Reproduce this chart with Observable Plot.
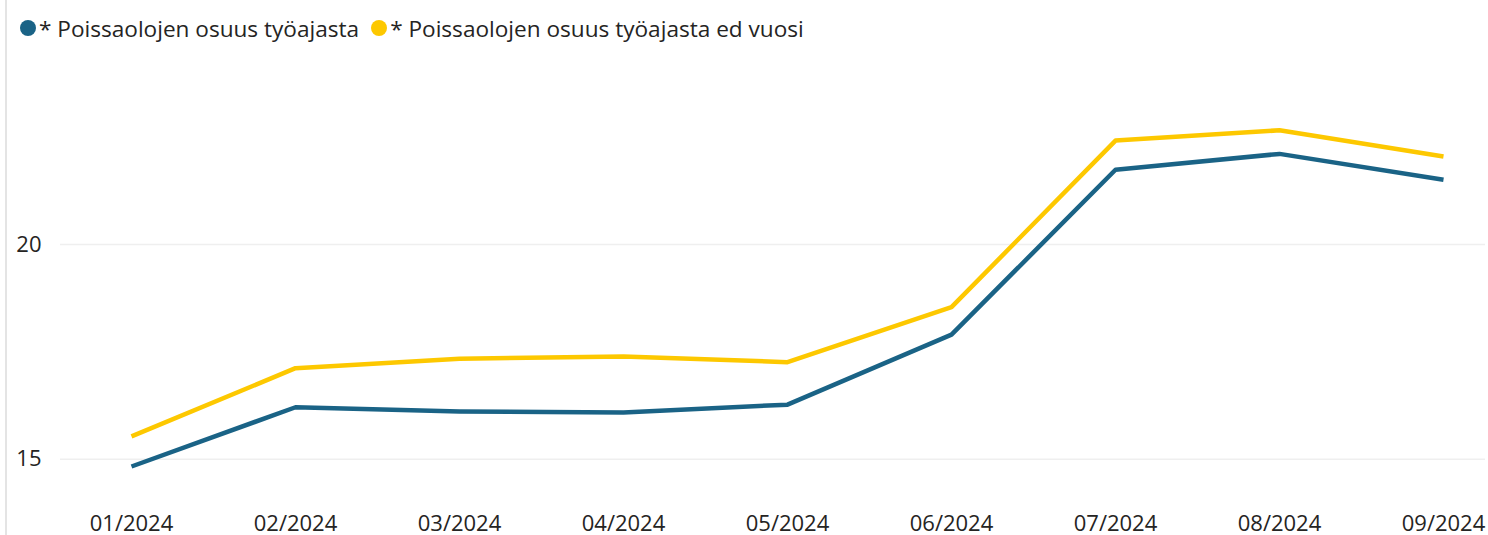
<!DOCTYPE html>
<html>
<head>
<meta charset="utf-8">
<script src="https://cdn.jsdelivr.net/npm/d3@7"></script>
<script src="https://cdn.jsdelivr.net/npm/@observablehq/plot@0.6"></script>
<style>
  html, body { margin: 0; padding: 0; background: #fff; }
  body { width: 1488px; height: 535px; position: relative; overflow: hidden; font-family: "Open Sans", "Segoe UI", sans-serif; }
  #border { position: absolute; left: 5px; top: 0; width: 2px; height: 535px; background: #e4e4e4; }
  #legend { height: 56px; display: flex; align-items: center; padding-left: 20px; font-size: 22.6px; color: #252423; }
  .item { display: flex; align-items: center; margin-right: 12px; }
  .dot { width: 16px; height: 16px; border-radius: 50%; margin-right: 3px; }
  #chart svg { display: block; }
</style>
</head>
<body>
<div id="border"></div>
<div id="legend"></div>
<div id="chart"></div>
<script>
const months = ["01/2024","02/2024","03/2024","04/2024","05/2024","06/2024","07/2024","08/2024","09/2024"];
const seriesNames = ["* Poissaolojen osuus työajasta", "* Poissaolojen osuus työajasta ed vuosi"];
const current = [14.83, 16.21, 16.11, 16.09, 16.27, 17.90, 21.74, 22.11, 21.51];
const previous = [15.53, 17.12, 17.34, 17.39, 17.26, 18.54, 22.42, 22.66, 22.05];
const yTicks = [15, 20];
const colors = ["#1a6386", "#fdc800"];

const legend = document.getElementById("legend");
seriesNames.forEach((n, i) => {
  const it = document.createElement("div");
  it.className = "item";
  const d = document.createElement("span");
  d.className = "dot";
  d.style.background = colors[i];
  const t = document.createElement("span");
  t.textContent = n;
  it.appendChild(d); it.appendChild(t);
  legend.appendChild(it);
});

const data = [];
months.forEach((m, i) => {
  data.push({month: m, value: current[i], series: seriesNames[0]});
  data.push({month: m, value: previous[i], series: seriesNames[1]});
});

const chart = Plot.plot({
  width: 1488,
  height: 479,
  marginLeft: 60,
  marginRight: 3,
  marginTop: 0,
  marginBottom: 30,
  style: {fontFamily: "'Open Sans', 'Segoe UI', sans-serif", fontSize: "22px", color: "#252423", background: "#fff", overflow: "visible"},
  x: {type: "point", domain: months, range: [128, 1445], padding: 0},
  y: {domain: [15, 20], range: [402.7, 188]},
  color: {domain: seriesNames, range: colors},
  marks: [
    Plot.ruleY(yTicks, {stroke: "#efefef", strokeWidth: 1.5}),
    Plot.axisY(yTicks, {tickSize: 0, tickPadding: 19, fontSize: 22, fill: "#252423", label: null}),
    Plot.axisX({tickSize: 0, tickPadding: 10, fontSize: 22, fill: "#252423", label: null}),
    Plot.line(data, {x: "month", y: "value", z: "series", stroke: "series", strokeWidth: 4.5, strokeLinejoin: "round", strokeLinecap: "butt"})
  ]
});
document.getElementById("chart").appendChild(chart);
</script>
</body>
</html>
